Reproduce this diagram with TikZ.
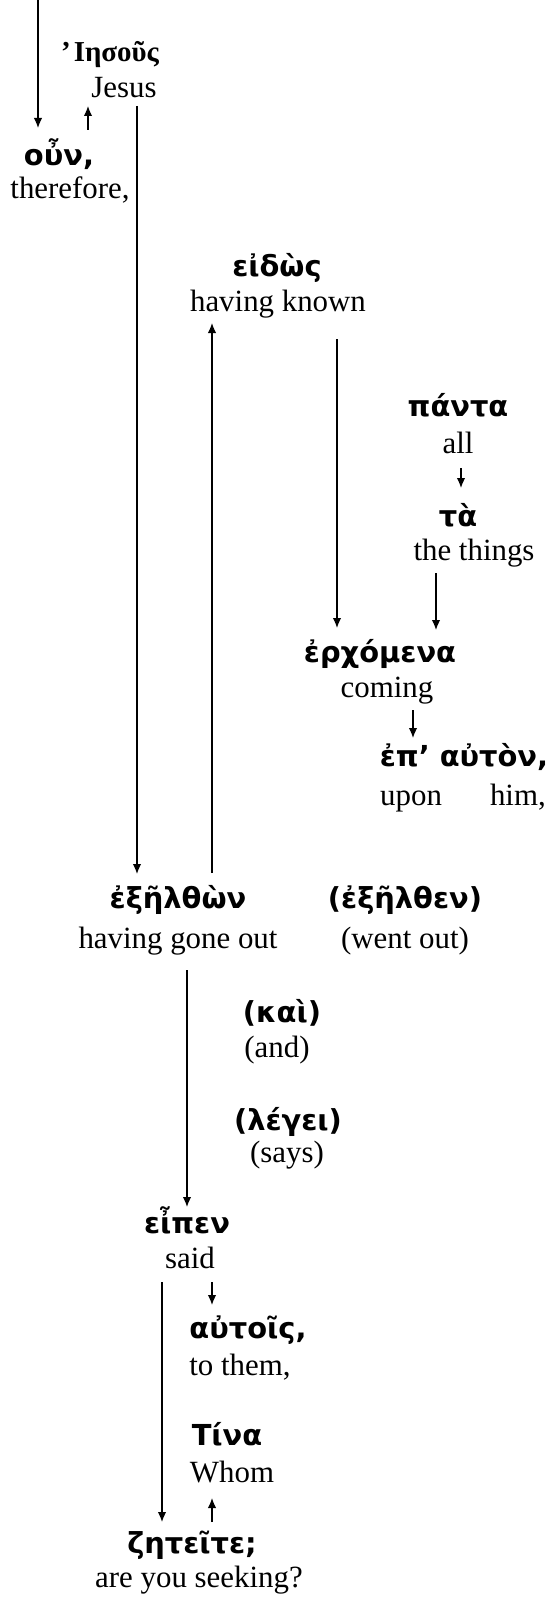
\documentclass[tikz,border=0pt]{standalone}
\usepackage{fontspec}
\setmainfont{Liberation Serif}
\newfontfamily\gk[Script=Greek]{DejaVu Sans}
\usetikzlibrary{arrows.meta}
\tikzset{
  gr/.style={font=\gk\bfseries\fontsize{29}{32}\selectfont, anchor=base, inner sep=0pt},
  grserif/.style={font=\bfseries\fontsize{29}{34}\selectfont, anchor=base, inner sep=0pt},
  en/.style={font=\fontsize{31}{36}\selectfont, anchor=base, inner sep=0pt},
  arr/.style={-{Latex[length=10bp,width=8.5bp]}, line width=1.3bp},
}
\begin{document}
\begin{tikzpicture}[x=1bp,y=-1bp]
\useasboundingbox[fill=white] (0,0) rectangle (552,1597);
% words
\node[grserif] (g1) at (110,62) {’\kern3bp Ιησοῦς};
\node[en] (e1) at (124,98) {Jesus};
\node[gr] (g2) at (59,165) {οὖν,};
\node[en] (e2) at (70,198) {therefore,};
\node[gr] (g3) at (277,276) {εἰδὼς};
\node[en] (e3) at (278,311) {having known};
\node[gr] (g4) at (458,416) {πάντα};
\node[en] (e4) at (458,453) {all};
\node[gr] (g5) at (458,526) {τὰ};
\node[en] (e5) at (474,560) {the things};
\node[gr] (g6) at (380,662) {ἐρχόμενα};
\node[en] (e6) at (387,697) {coming};
\node[gr] (g7) at (464,766) {ἐπ’ αὐτὸν,};
\node[en] (e7) at (463,805) {upon\hspace{48bp}him,};
\node[gr] (g8) at (178,908) {ἐξῆλθὼν};
\node[en] (e8) at (178,948) {having gone out};
\node[gr] (g9) at (405,908) {(ἐξῆλθεν)};
\node[en] (e9) at (405,948) {(went out)};
\node[gr] (g10) at (282,1022) {(καὶ)};
\node[en] (e10) at (277,1057) {(and)};
\node[gr] (g11) at (288,1130) {(λέγει)};
\node[en] (e11) at (287,1162) {(says)};
\node[gr] (g12) at (187,1233) {εἶπεν};
\node[en] (e12) at (190,1268) {said};
\node[gr] (g13) at (248,1338) {αὐτοῖς,};
\node[en] (e13) at (240,1375) {to them,};
\node[gr] (g14) at (227,1445) {Τίνα};
\node[en] (e14) at (232,1482) {Whom};
\node[gr] (g15) at (192,1553) {ζητεῖτε;};
\node[en] (e15) at (199,1587) {are you seeking?};
% connector ends
\coordinate (c1a) at (38,0);    \coordinate (c1b) at (38,128);
\coordinate (c2a) at (88,130);  \coordinate (c2b) at (88,106);
\coordinate (c3a) at (137,106); \coordinate (c3b) at (137,874);
\coordinate (c4a) at (212,873); \coordinate (c4b) at (212,323);
\coordinate (c5a) at (337,339); \coordinate (c5b) at (337,628);
\coordinate (c6a) at (461,468); \coordinate (c6b) at (461,488);
\coordinate (c7a) at (436,573); \coordinate (c7b) at (436,630);
\coordinate (c8a) at (413,710); \coordinate (c8b) at (413,738);
\coordinate (c9a) at (187,970); \coordinate (c9b) at (187,1207);
\coordinate (c10a) at (162,1282); \coordinate (c10b) at (162,1522);
\coordinate (c11a) at (212,1282); \coordinate (c11b) at (212,1305);
\coordinate (c12a) at (212,1522); \coordinate (c12b) at (212,1498);
% connectors
\draw[arr] (c1a) -- (c1b);
\draw[arr] (c2a) -- (c2b);
\draw[arr] (c3a) -- (c3b);
\draw[arr] (c4a) -- (c4b);
\draw[arr] (c5a) -- (c5b);
\draw[arr] (c6a) -- (c6b);
\draw[arr] (c7a) -- (c7b);
\draw[arr] (c8a) -- (c8b);
\draw[arr] (c9a) -- (c9b);
\draw[arr] (c10a) -- (c10b);
\draw[arr] (c11a) -- (c11b);
\draw[arr] (c12a) -- (c12b);
\end{tikzpicture}
\end{document}
